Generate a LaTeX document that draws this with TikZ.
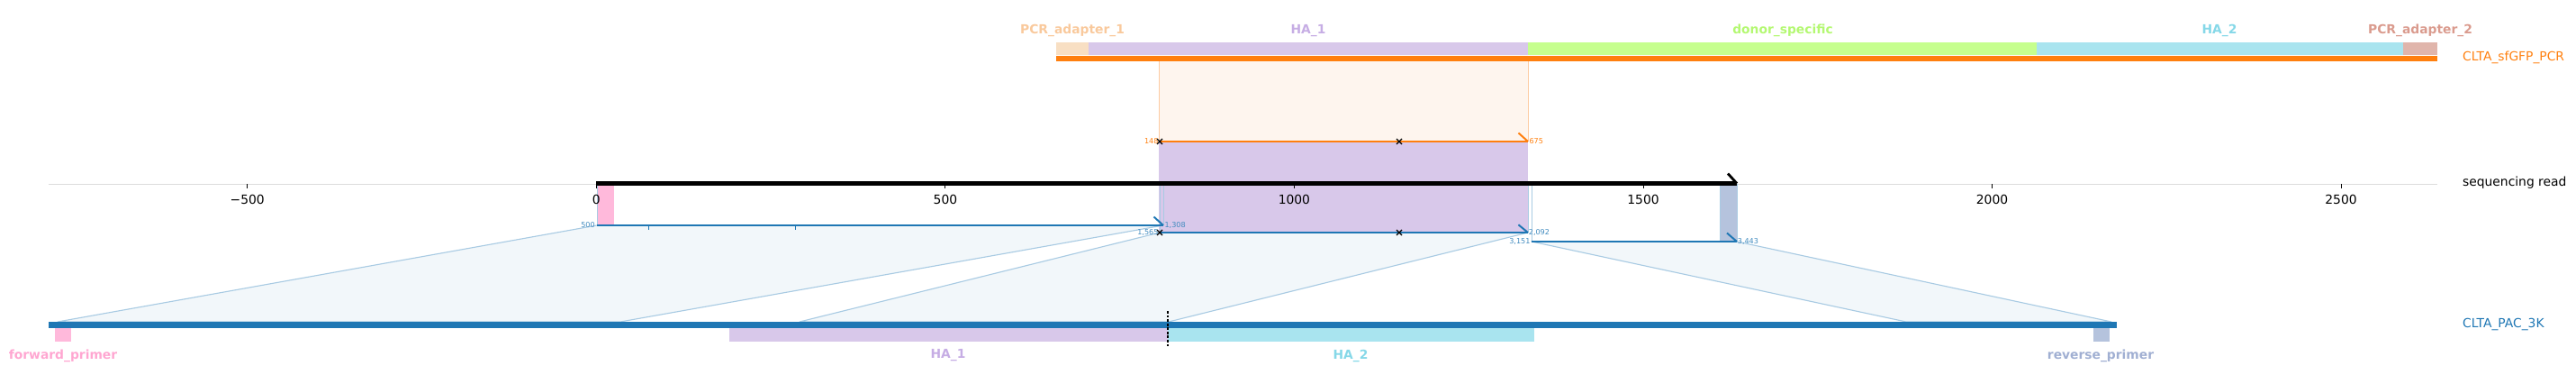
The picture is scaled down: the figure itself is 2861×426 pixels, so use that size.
\documentclass[tikz,border=0pt]{standalone}
\usepackage{fontspec}
\setmainfont{DejaVu Sans}
\usepackage{xcolor}
\definecolor{tabblue}{HTML}{1F77B4}
\definecolor{taborange}{HTML}{FF7F0E}
\definecolor{adapterone}{HTML}{F8DFC3}
\definecolor{adapteronetext}{HTML}{F9C99C}
\definecolor{haone}{HTML}{D8C8EA}
\definecolor{haonetext}{HTML}{C6ADE4}
\definecolor{donor}{HTML}{C6FF8E}
\definecolor{donortext}{HTML}{B4F872}
\definecolor{hatwo}{HTML}{A9E4EF}
\definecolor{hatwotext}{HTML}{86D8E8}
\definecolor{adaptertwo}{HTML}{E0B5AB}
\definecolor{adaptertwotext}{HTML}{DA9B8E}
\definecolor{fwdprimer}{HTML}{FFB9DB}
\definecolor{fwdprimertext}{HTML}{FFA6D1}
\definecolor{revprimer}{HTML}{B5C3DD}
\definecolor{revprimertext}{HTML}{A0AFD2}
\definecolor{projfill}{HTML}{F2F7FA}
\definecolor{projedge}{HTML}{A9CBE3}
\definecolor{peachfill}{HTML}{FEF5EE}
\definecolor{peachedge}{HTML}{FDCBA2}
\definecolor{axisgray}{HTML}{DCDCDC}
\usepackage{tikz}
\usetikzlibrary{positioning}

\begin{document}
\begin{tikzpicture}[x=0.05cm, y=-0.05cm,
  featlabel/.style={font=\fontsize{19.7}{22}\selectfont\bfseries, inner sep=0pt},
  ticklabel/.style={font=\fontsize{19.7}{22}\selectfont, inner sep=0pt},
  tracklabel/.style={font=\fontsize{19.7}{22}\selectfont, anchor=west, inner sep=0pt},
  numlabel/.style={font=\fontsize{11.5}{12}\selectfont, inner sep=0pt},
  alnline/.style={line width=3.4pt},
  barb/.style={line width=2.8pt},
  xmark/.style={black, line width=1.8pt},
  proj/.style={fill=projfill, draw=projedge, line width=1.6pt, line join=round},
  projside/.style={draw=projedge, line width=1.3pt},
  tickline/.style={black, line width=1.3pt}
]
\useasboundingbox (0,0) rectangle (2861,426);

\fill[peachfill] (1287,67.7) rectangle (1697,157);
\draw[peachedge, line width=1.4pt] (1287,67.7) -- (1287,157) (1697,67.7) -- (1697,157);

\coordinate (rdA) at (663,250);   \coordinate (rdB) at (1292,250);
\coordinate (rdC) at (1288,258);  \coordinate (rdD) at (1697,258);
\coordinate (rdE) at (1701,268);  \coordinate (rdF) at (1929,268);
\coordinate (pcA) at (64,357);    \coordinate (pcB) at (689,357);
\coordinate (pcC) at (888,357);   \coordinate (pcD) at (1298,357);
\coordinate (pcE) at (2117,357);  \coordinate (pcF) at (2345,357);
\draw[proj] (rdA) -- (rdB) -- (pcB) -- (pcA) -- cycle;
\draw[proj] (rdC) -- (rdD) -- (pcD) -- (pcC) -- cycle;
\draw[proj] (rdE) -- (rdF) -- (pcF) -- (pcE) -- cycle;

\fill[haone] (1287,157) rectangle (1697,258);

\draw[axisgray, line width=1.4pt] (54,204) -- (2707,204);
\draw[tickline] (274.7,204) -- (274.7,209);
\draw[tickline] (662.3,204) -- (662.3,209);
\draw[tickline] (1049.9,204) -- (1049.9,209);
\draw[tickline] (1437.4,204) -- (1437.4,209);
\draw[tickline] (1825,204) -- (1825,209);
\draw[tickline] (2212.5,204) -- (2212.5,209);
\draw[tickline] (2600,204) -- (2600,209);

\fill[fwdprimer] (663,205.5) rectangle (682,249);
\filldraw[fill=revprimer, draw=projedge, line width=1.3pt] (1910,205.5) rectangle (1929,268);
\draw[projside] (rdA |- 0,204) -- (rdA) (rdB |- 0,204) -- (rdB);
\draw[projside] (rdC |- 0,204) -- (rdC) (rdD |- 0,204) -- (rdD);
\draw[projside] (rdE |- 0,204) -- (rdE) (rdF |- 0,204) -- (rdF);

\node[ticklabel] (tmfive) at (274.7,221) {−500};
\node[ticklabel] (tzero) at (662.3,221) {0};
\node[ticklabel] (tfive) at (1049.9,221) {500};
\node[ticklabel] (tten) at (1437.4,221) {1000};
\node[ticklabel] (tfifteen) at (1825,221) {1500};
\node[ticklabel] (ttwenty) at (2212.5,221) {2000};
\node[ticklabel] (ttwentyfive) at (2600,221) {2500};

\coordinate (readstart) at (662,203.5);
\coordinate (readend) at (1929,203.5);
\draw[black, line width=5.7pt] (readstart) -- (readend);
\draw[black, line width=4pt] (1919,192.5) -- (readend);

\coordinate (orA) at (1288,157);
\coordinate (orB) at (1697,157);
\draw[taborange, alnline] (orA) -- (orB);
\draw[taborange, barb] (1686.5,147.5) -- (orB);
\node[numlabel, text=taborange, left=2pt of orA] (nonefortyeight) {148};
\node[numlabel, text=taborange, right=2pt of orB] (nsixseventyfive) {675};

\draw[tabblue, alnline] (rdA) -- (rdB);
\draw[tabblue, barb] (1281.5,240.5) -- (rdB);
\draw[tabblue, line width=2.4pt] (720.5,250) -- (720.5,254.5) (883.5,250) -- (883.5,254.5);
\node[numlabel, text=tabblue!85, left=3pt of rdA] (nfivehundred) {500};
\node[numlabel, text=tabblue!85, right=2pt of rdB] (nthirteenoeight) {1,308};

\draw[tabblue, alnline] (rdC) -- (rdD);
\draw[tabblue, barb] (1686.4,249.3) -- (rdD);
\node[numlabel, text=tabblue!85, left=2pt of rdC] (nfifteensixtyfive) {1,565};
\node[numlabel, text=tabblue!85, right=1pt of rdD] (ntwentyninetytwo) {2,092};

\draw[tabblue, alnline] (rdE) -- (rdF);
\draw[tabblue, barb] (1918,258.5) -- (rdF);
\node[numlabel, text=tabblue!85, left=2pt of rdE] (nthirtyonefiftyone) {3,151};
\node[numlabel, text=tabblue!85, right=1pt of rdF] (nthirtyfourfortythree) {3,443};

\draw[xmark] (1288,157) +(-3,-3) -- +(3,3) +(-3,3) -- +(3,-3);
\draw[xmark] (1554,157) +(-3,-3) -- +(3,3) +(-3,3) -- +(3,-3);
\draw[xmark] (1288,258) +(-3,-3) -- +(3,3) +(-3,3) -- +(3,-3);
\draw[xmark] (1554,258) +(-3,-3) -- +(3,3) +(-3,3) -- +(3,-3);

\fill[adapterone] (1173,47) rectangle (1209,61.5);
\fill[haone] (1209,47) rectangle (1697,61.5);
\fill[donor] (1697,47) rectangle (2262,61.5);
\fill[hatwo] (2262,47) rectangle (2669,61.5);
\fill[adaptertwo] (2669,47) rectangle (2706.5,61.5);
\draw[taborange, line width=8.5pt] (1173,64.7) -- (2706.5,64.7);
\node[featlabel, text=adapteronetext] (padone) at (1191,34) {PCR\_adapter\_1};
\node[featlabel, text=haonetext] (haonetop) at (1453,34) {HA\_1};
\node[featlabel, text=donortext] (donorspec) at (1980,34) {donor\_specific};
\node[featlabel, text=hatwotext] (hatwotop) at (2465,34) {HA\_2};
\node[featlabel, text=adaptertwotext] (padtwo) at (2688,34) {PCR\_adapter\_2};

\draw[tabblue, line width=10pt] (54,360.5) -- (2350.6,360.5);
\fill[fwdprimer] (61,364) rectangle (78.5,379);
\fill[haone] (810,364) rectangle (1297,379);
\fill[hatwo] (1297,364) rectangle (1704,379);
\fill[revprimer] (2325,364) rectangle (2342.6,379);
\draw[black, line width=1.6pt, dash pattern=on 4pt off 2.5pt] (1297,345) -- (1297,385);
\node[featlabel, text=fwdprimertext] (fwdlabel) at (70,394.5) {forward\_primer};
\node[featlabel, text=haonetext] (haonebottom) at (1053,394.5) {HA\_1};
\node[featlabel, text=hatwotext] (hatwobottom) at (1500,394.5) {HA\_2};
\node[featlabel, text=revprimertext] (revlabel) at (2333,394.5) {reverse\_primer};

\node[tracklabel, text=taborange] (pcrtrack) at (2735,64) {CLTA\_sfGFP\_PCR};
\node[tracklabel, text=black] (readtrack) at (2735,203) {sequencing read};
\node[tracklabel, text=tabblue] (plasmidtrack) at (2735,360) {CLTA\_PAC\_3K};
\end{tikzpicture}
\end{document}
